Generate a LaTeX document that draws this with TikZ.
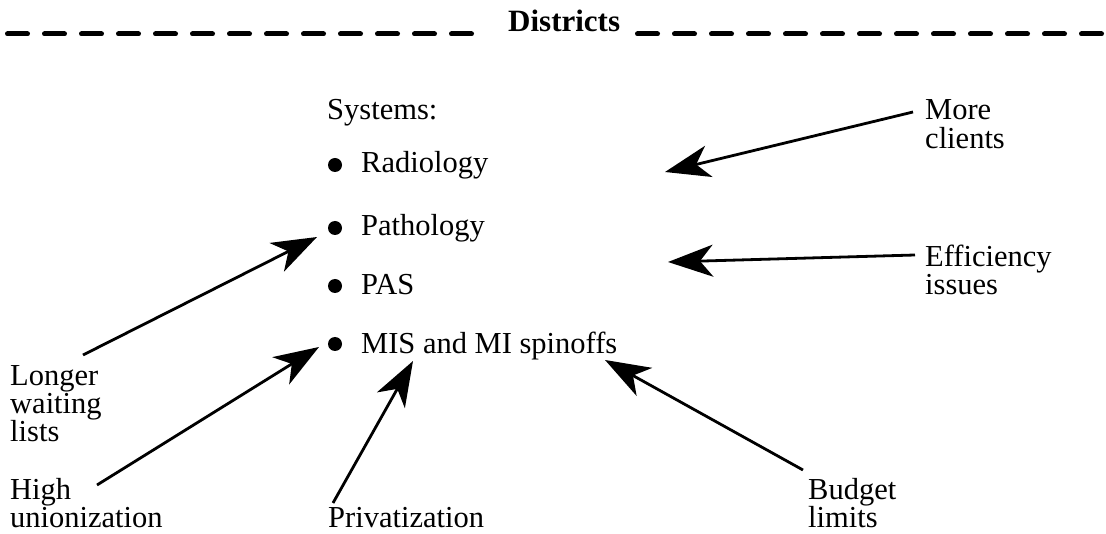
\documentclass[tikz,border=0pt]{standalone}
\usepackage{fontspec}
\setmainfont{Liberation Serif}
\usetikzlibrary{arrows.meta}
\tikzset{
  lbl/.style={anchor=base west, inner sep=0pt, font=\fontsize{30.5}{28}\selectfont},
  ttl/.style={anchor=base west, inner sep=0pt, font=\fontsize{31}{28}\selectfont\bfseries},
  dot/.style={circle, fill=black, inner sep=0pt, minimum size=14pt},
  arr/.style={line width=2.8pt, -{Stealth[length=45pt,width=32pt,inset=13pt]}},
  rule/.style={line width=5pt, dash pattern=on 20pt off 17pt, line cap=round}
}
\begin{document}
\begin{tikzpicture}[x=1pt,y=-1pt]
\useasboundingbox (0,0) rectangle (1106,534);
% title and dashed rule
\node[ttl] (title) at (508,32) {Districts};
\draw[rule] (7.5,34) -- (474,34);
\draw[rule] (637.5,34) -- (1106,34);
% systems list
\node[lbl] (sys) at (327,120) {Systems:};
\node[dot] (b1) at (335,165) {};
\node[dot] (b2) at (335,228) {};
\node[dot] (b3) at (335,286) {};
\node[dot] (b4) at (335,344) {};
\node[lbl] (rad) at (361,173) {Radiology};
\node[lbl] (pat) at (361,236) {Pathology};
\node[lbl] (pas) at (361,295) {PAS};
\node[lbl] (mis) at (361,354) {MIS and MI spinoffs};
% influence labels
\node[lbl] (more1) at (925,120) {More};
\node[lbl] (more2) at (925,149) {clients};
\node[lbl] (eff1) at (925,267) {Efficiency};
\node[lbl] (eff2) at (925,295) {issues};
\node[lbl] (lon1) at (10,386) {Longer};
\node[lbl] (lon2) at (10,414) {waiting};
\node[lbl] (lon3) at (10,442) {lists};
\node[lbl] (hig1) at (10,499) {High};
\node[lbl] (hig2) at (10,527) {unionization};
\node[lbl] (pri) at (328,527) {Privatization};
\node[lbl] (bud1) at (808,499) {Budget};
\node[lbl] (bud2) at (808,527) {limits};
% connector end points
\coordinate (s1) at (913,112);  \coordinate (t1) at (665,172);
\coordinate (s2) at (915,255);  \coordinate (t2) at (668,262);
\coordinate (s3) at (83,355);   \coordinate (t3) at (317,237);
\coordinate (s4) at (97,485);   \coordinate (t4) at (319,347);
\coordinate (s5) at (333,503);  \coordinate (t5) at (413,361);
\coordinate (s6) at (803,470);  \coordinate (t6) at (605,360);
\draw[arr] (s1) -- (t1);
\draw[arr] (s2) -- (t2);
\draw[arr] (s3) -- (t3);
\draw[arr] (s4) -- (t4);
\draw[arr] (s5) -- (t5);
\draw[arr] (s6) -- (t6);
\end{tikzpicture}
\end{document}
